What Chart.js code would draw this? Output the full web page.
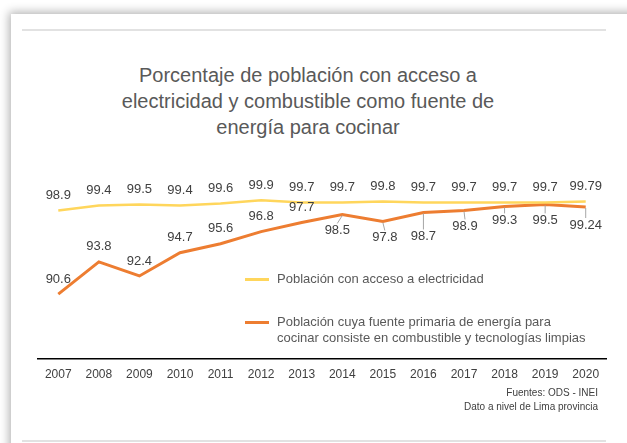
<!DOCTYPE html>
<html>
<head>
<meta charset="utf-8">
<script src="https://cdn.jsdelivr.net/npm/chart.js@4/dist/chart.umd.min.js"></script>
<style>
  html, body { margin:0; padding:0; width:627px; height:443px; overflow:hidden; background:#ffffff; font-family:"Liberation Sans", Arial, sans-serif; }
  #card { position:absolute; left:11px; top:14px; width:640px; height:460px; background:#fff; box-shadow:0 0 9px 2px rgba(0,0,0,0.30); }
  .rule { position:absolute; left:22px; width:584px; height:2px; background:#e2e2e2; }
  #title { position:absolute; left:108px; width:400px; top:62px; text-align:center; font-size:20px; line-height:26px; color:#595959; }
  #chartwrap { position:absolute; left:0; top:0; width:627px; height:443px; }
  .leg { position:absolute; font-size:13px; line-height:16px; color:#595959; }
  .sw { position:absolute; width:24px; height:3px; }
  .src { position:absolute; right:29px; font-size:10px; line-height:14px; color:#404040; text-align:right; }
</style>
</head>
<body>
<div id="card"></div>
<div class="rule" style="top:29px"></div>
<div class="rule" style="top:440px"></div>
<div id="title">Porcentaje de población con acceso a<br>electricidad y combustible como fuente de<br>energía para cocinar</div>
<div id="chartwrap"><canvas id="c" width="627" height="443"></canvas></div>
<div class="sw" style="left:245px;top:278px;background:#FFD65C"></div>
<div class="leg" style="left:277px;top:271px">Población con acceso a electricidad</div>
<div class="sw" style="left:245px;top:321px;background:#ED7D31"></div>
<div class="leg" style="left:277px;top:314px">Población cuya fuente primaria de energía para<br>cocinar consiste en combustible y tecnologías limpias</div>
<div class="src" style="top:386px">Fuentes: ODS - INEI</div>
<div class="src" style="top:400px">Dato a nivel de Lima provincia</div>
<script>
const years = ['2007','2008','2009','2010','2011','2012','2013','2014','2015','2016','2017','2018','2019','2020'];
const electricidad = [98.9, 99.4, 99.5, 99.4, 99.6, 99.9, 99.7, 99.7, 99.8, 99.7, 99.7, 99.7, 99.7, 99.79];
const combustible = [90.6, 93.8, 92.4, 94.7, 95.6, 96.8, 97.7, 98.5, 97.8, 98.7, 98.9, 99.3, 99.5, 99.24];
const electricidadLabels = ['98.9','99.4','99.5','99.4','99.6','99.9','99.7','99.7','99.8','99.7','99.7','99.7','99.7','99.79'];
const combustibleLabels = ['90.6','93.8','92.4','94.7','95.6','96.8','97.7','98.5','97.8','98.7','98.9','99.3','99.5','99.24'];

// label placement (style only): vertical offset of label centre from point, and horizontal shift
const labelDy = [
  [-15,-15,-15,-15,-15,-15,-15,-15,-15,-15,-15,-15,-15,-15],
  [-15,-15,-15,-15,-15,-15,-15, 16, 16, 24, 16, 14, 16, 18]
];
const labelDx = [
  [0,0,0,0,0,0,0,0,0,0,0,0,0,0],
  [0,0,0,0,0,0,0,-5,2,0,1,0,0,0]
];

const labelPlugin = {
  id: 'valueLabels',
  afterDatasetsDraw(chart) {
    const ctx = chart.ctx;
    ctx.save();
    ctx.font = '13px "Liberation Sans", Arial, sans-serif';
    ctx.textAlign = 'center';
    ctx.textBaseline = 'middle';
    chart.data.datasets.forEach((ds, di) => {
      const meta = chart.getDatasetMeta(di);
      meta.data.forEach((pt, i) => {
        const dy = labelDy[di][i], dx = labelDx[di][i];
        const lx = pt.x + dx, ly = pt.y + dy;
        if (dy > 0) {
          ctx.strokeStyle = '#a6a6a6';
          ctx.lineWidth = 1;
          ctx.beginPath();
          ctx.moveTo(pt.x, pt.y + 1);
          ctx.lineTo(lx, ly - 7);
          ctx.stroke();
        }
        ctx.fillStyle = '#404040';
        ctx.fillText(ds.valueLabels[i], lx, ly);
      });
    });
    ctx.restore();
  }
};

new Chart(document.getElementById('c'), {
  type: 'line',
  data: {
    labels: years,
    datasets: [
      { label: 'Población con acceso a electricidad', data: electricidad, valueLabels: electricidadLabels,
        borderColor: '#FFD65C', borderWidth: 2.5, pointRadius: 0, tension: 0, fill: false },
      { label: 'Población cuya fuente primaria de energía para cocinar consiste en combustible y tecnologías limpias', data: combustible, valueLabels: combustibleLabels,
        borderColor: '#ED7D31', borderWidth: 3, pointRadius: 0, tension: 0, fill: false }
    ]
  },
  options: {
    responsive: false,
    animation: false,
    events: [],
    layout: { padding: { left: 38, right: 21, top: 153, bottom: 52 } },
    plugins: { legend: { display: false }, title: { display: false }, tooltip: { enabled: false } },
    scales: {
      x: {
        offset: true,
        grid: { display: false, drawTicks: false },
        border: { display: true, color: '#000000', width: 1.5 },
        ticks: { color: '#404040', padding: 9, font: { size: 12, family: '"Liberation Sans", Arial, sans-serif' }, maxRotation: 0, autoSkip: false }
      },
      y: {
        display: false,
        min: 84.2,
        max: 104.6
      }
    }
  },
  plugins: [labelPlugin]
});
</script>
</body>
</html>
